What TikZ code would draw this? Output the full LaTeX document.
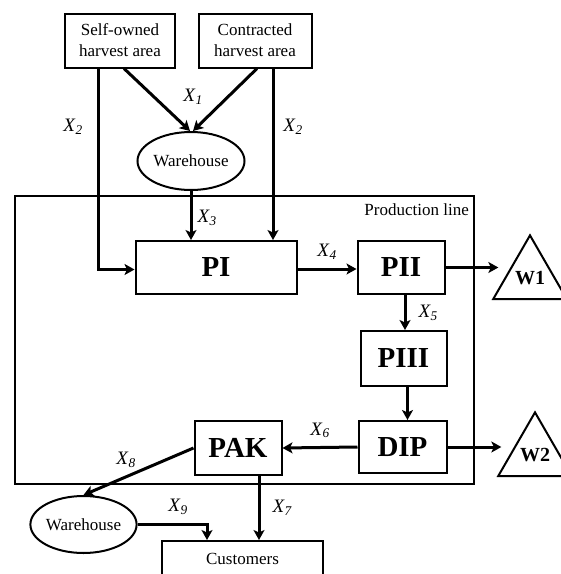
\documentclass[tikz,border=0pt]{standalone}
\usepackage{fontspec}
\setmainfont{Liberation Serif}
\usetikzlibrary{arrows.meta,shapes.geometric,positioning}
\newcommand{\xlab}[1]{\textit{X}\textsubscript{\textit{#1}}}

\begin{document}
\begin{tikzpicture}[x=1pt, y=-1pt,
    block/.style={rectangle, draw, line width=2pt, inner sep=0pt, align=center, font=\fontsize{17}{21}\selectfont},
    stage/.style={block, minimum height=53pt, font=\fontsize{29}{32}\selectfont\bfseries},
    store/.style={ellipse, draw, line width=2pt, inner sep=0pt, font=\fontsize{17}{20}\selectfont},
    waste/.style={regular polygon, regular polygon sides=3, draw, line width=2pt, inner sep=0pt, minimum size=73pt, font=\fontsize{20}{22}\selectfont\bfseries},
    arrow/.style={-{Stealth[length=10pt, width=11pt, inset=2.5pt]}, line width=3pt},
    flow/.style={inner sep=0pt, font=\fontsize{19}{21}\selectfont}
]
\useasboundingbox (0,0) rectangle (561,574);

% production line frame
\node[draw, line width=2pt, minimum width=459pt, minimum height=288pt] (prod) at (244.5,340) {};
\node[anchor=north east, inner sep=0pt, font=\fontsize{17}{20}\selectfont] (plabel) at ([xshift=-6pt, yshift=-8pt]prod.north east) {Production line};

% sources and warehouses
\node[block, minimum width=110pt, minimum height=54pt] (self) at (120,40.5) {Self-owned\\harvest area};
\node[block, minimum width=113pt, minimum height=54pt] (contr) at (255,40.5) {Contracted\\harvest area};
\node[store, minimum width=107pt, minimum height=58pt] (store1) at (191,161) {Warehouse};

% stages
\node[stage, minimum width=161pt] (pi) at (216,267.5) {PI};
\node[stage, minimum width=87pt] (pii) at (401,267.5) {PII};
\node[stage, minimum width=86pt, minimum height=55pt] (piii) at (403.5,358.5) {PIII};
\node[stage, minimum width=88pt, minimum height=52pt] (dip) at (402.5,447) {DIP};
\node[stage, minimum width=87pt, minimum height=54pt] (pak) at (238,448) {PAK};
\node[waste] (w1) at (530,277.8) {W1};
\node[waste] (w2) at (535,454.8) {W2};

% outputs
\node[store, minimum width=106pt, minimum height=57pt] (store2) at (83.5,524.5) {Warehouse};
\node[block, minimum width=161pt, minimum height=36pt] (cust) at (242.5,559) {Customers};

% flows
\draw[arrow] ([xshift=4pt]self.south) -- ([xshift=-1pt]store1.north);
\draw[arrow] ([xshift=2pt]contr.south) -- ([xshift=2pt]store1.north);
\node[flow] (x1) at (193,97) {\xlab{1}};
\draw[arrow] ([xshift=-22pt]self.south) |- ([yshift=-2pt]pi.west);
\node[flow] (x2a) at (73,127) {\xlab{2}};
\draw[arrow] ([xshift=18pt]contr.south) -- ([xshift=18pt]contr.south |- pi.north);
\node[flow] (x2b) at (293,127) {\xlab{2}};
\draw[arrow] (store1.south) -- (store1.south |- pi.north) node[flow, pos=0.55, right=5pt] (x3) {\xlab{3}};
\draw[arrow] ([yshift=-1.5pt]pi.east) -- ([yshift=-1.5pt]pii.west) node[flow, midway, above=8pt] (x4) {\xlab{4}};
\draw[arrow] (pii.east) -- ([xshift=-6pt]pii.east -| w1.west);
\draw[arrow] ([xshift=4pt]pii.south) -- ([xshift=4pt]pii.south |- piii.north) node[flow, midway, right=12pt] (x5) {\xlab{5}};
\draw[arrow] ([xshift=4pt]piii.south) -- ([xshift=4pt]piii.south |- dip.north);
\draw[arrow] (dip.west) -- (pak.east) node[flow, midway, above=8pt] (x6) {\xlab{6}};
\draw[arrow] (dip.east) -- ([xshift=-8pt]dip.east -| w2.west);
\draw[arrow] ([xshift=21pt]pak.south) -- ([xshift=21pt]pak.south |- cust.north) node[flow, midway, right=12pt] (x7) {\xlab{7}};
\draw[arrow] (pak.west) -- (store2.north);
\node[flow] (x8) at (126,460) {\xlab{8}};
\draw[arrow] (store2.east) -| ([xshift=-35.5pt]cust.north);
\node[flow] (x9) at (178,507) {\xlab{9}};

\end{tikzpicture}
\end{document}
